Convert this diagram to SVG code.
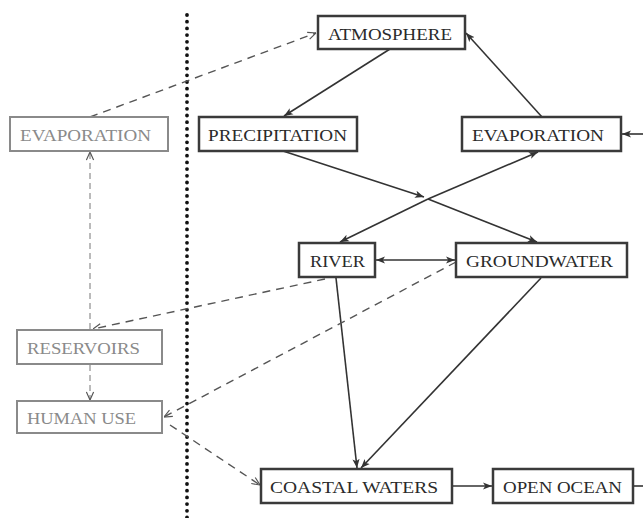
<svg xmlns="http://www.w3.org/2000/svg" width="643" height="518" viewBox="0 0 643 518">
<defs>
<style>
.box{fill:#fff;stroke:#3a3a3a;stroke-width:2.5}
.gbox{fill:#fff;stroke:#8a8a8a;stroke-width:2}
.t{font-family:"Liberation Serif","Times New Roman",serif;font-size:17px;fill:#2a2a2a}
.gt{font-family:"Liberation Serif","Times New Roman",serif;font-size:17px;fill:#8a8a8a}
.s{fill:none;stroke:#333;stroke-width:1.6}
.d{fill:none;stroke:#555;stroke-width:1.4;stroke-dasharray:8 6}
.dg{fill:none;stroke:#777;stroke-width:1;stroke-dasharray:6 4}
</style>
<marker id="a" viewBox="0 0 10 10" refX="10" refY="5" markerWidth="9" markerHeight="9" markerUnits="userSpaceOnUse" orient="auto-start-reverse">
<path d="M0,1 L10,5 L0,9 L2.5,5 z" fill="#333"/>
</marker>
<marker id="o" viewBox="0 0 10 10" refX="10" refY="5" markerWidth="9" markerHeight="9" markerUnits="userSpaceOnUse" orient="auto-start-reverse">
<path d="M1,1 L10,5 L1,9" fill="none" stroke="#555" stroke-width="1.3"/>
</marker>
</defs>
<rect width="643" height="518" fill="#fff"/>
<line x1="187" y1="15" x2="187" y2="518" stroke="#111" stroke-width="3.8" stroke-linecap="round" stroke-dasharray="0 6.7"/>
<g id="connectors">
<path class="d" d="M90,117 L316,33" marker-end="url(#o)"/>
<path class="s" d="M390,49 L284,116" marker-end="url(#a)"/>
<path class="s" d="M542,117 L466,33" marker-end="url(#a)"/>
<path class="s" d="M283,151 L424,197" marker-end="url(#a)"/>
<path class="s" d="M428,199 L537,242" marker-end="url(#a)"/>
<path class="s" d="M428,199 L340,242" marker-end="url(#a)"/>
<path class="s" d="M428,199 L538,152" marker-end="url(#a)"/>
<path class="s" d="M643,134 L622,134" marker-end="url(#a)"/>
<path class="s" d="M376,260 L455,260" marker-start="url(#a)" marker-end="url(#a)"/>
<path class="s" d="M336,278 L357,468" marker-end="url(#a)"/>
<path class="s" d="M541,278 L361,468" marker-end="url(#a)"/>
<path class="s" d="M453,486 L492,486" marker-end="url(#a)"/>
<path class="s" d="M634,486 L643,486"/>
<path class="dg" d="M90,329 L90,152" marker-end="url(#o)"/>
<path class="d" d="M325,279 L93,329" marker-end="url(#o)"/>
<path class="dg" d="M90,365 L90,400" marker-end="url(#o)"/>
<path class="d" d="M456,262 L164,417" marker-end="url(#o)"/>
<path class="d" d="M170,425 L260,485" marker-end="url(#o)"/>
</g>
<g id="atmosphere"><rect class="box" x="318" y="16" width="147" height="33"/><text class="t" x="328" y="40" textLength="124" lengthAdjust="spacingAndGlyphs">ATMOSPHERE</text></g>
<g id="evaporation-left"><rect class="gbox" x="10" y="117" width="158" height="34"/><text class="gt" x="20" y="141" textLength="131" lengthAdjust="spacingAndGlyphs">EVAPORATION</text></g>
<g id="precipitation"><rect class="box" x="199" y="117" width="158" height="34"/><text class="t" x="208" y="141" textLength="139" lengthAdjust="spacingAndGlyphs">PRECIPITATION</text></g>
<g id="evaporation-right"><rect class="box" x="462" y="117" width="159" height="34"/><text class="t" x="472" y="141" textLength="132" lengthAdjust="spacingAndGlyphs">EVAPORATION</text></g>
<g id="river"><rect class="box" x="299" y="243" width="76" height="34"/><text class="t" x="310" y="267" textLength="55" lengthAdjust="spacingAndGlyphs">RIVER</text></g>
<g id="groundwater"><rect class="box" x="456" y="243" width="171" height="34"/><text class="t" x="466" y="267" textLength="147" lengthAdjust="spacingAndGlyphs">GROUNDWATER</text></g>
<g id="reservoirs"><rect class="gbox" x="17" y="330" width="145" height="34"/><text class="gt" x="27" y="354" textLength="113" lengthAdjust="spacingAndGlyphs">RESERVOIRS</text></g>
<g id="human-use"><rect class="gbox" x="17" y="401" width="145" height="32"/><text class="gt" x="27" y="424" textLength="109" lengthAdjust="spacingAndGlyphs">HUMAN USE</text></g>
<g id="coastal-waters"><rect class="box" x="261" y="469" width="191" height="34"/><text class="t" x="270" y="493" textLength="168" lengthAdjust="spacingAndGlyphs">COASTAL WATERS</text></g>
<g id="open-ocean"><rect class="box" x="493" y="469" width="140" height="34"/><text class="t" x="503" y="493" textLength="119" lengthAdjust="spacingAndGlyphs">OPEN OCEAN</text></g>
</svg>
